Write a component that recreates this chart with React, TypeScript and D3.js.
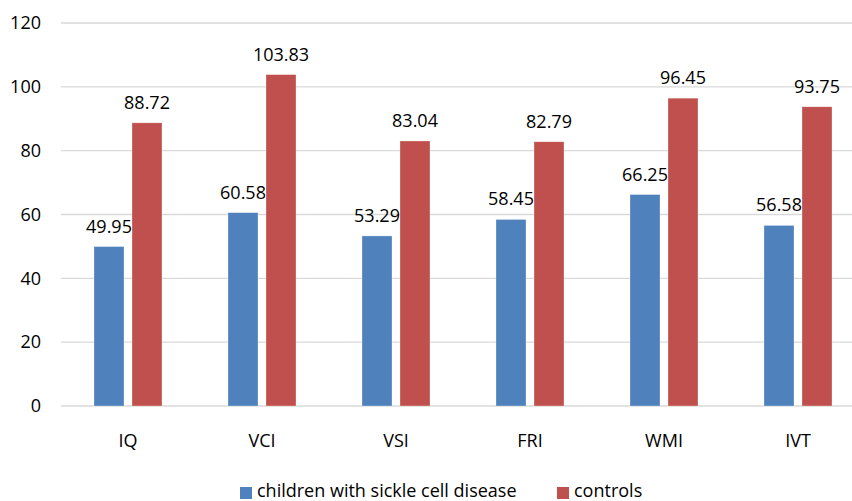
import React from "react";
import * as d3 from "d3";

const categories = ["IQ", "VCI", "VSI", "FRI", "WMI", "IVT"];
const sickleCell = [49.95, 60.58, 53.29, 58.45, 66.25, 56.58];
const controls = [88.72, 103.83, 83.04, 82.79, 96.45, 93.75];
const yTicks = [0, 20, 40, 60, 80, 100, 120];
const seriesNames = ["children with sickle cell disease", "controls"];
const seriesColors = ["#4F81BD", "#C0504D"];

const W = 852;
const H = 501;
const FONT = "'Open Sans', 'Noto Sans', sans-serif";
const FS = 18;

export default function App() {
  const x = d3.scaleBand<string>().domain(categories).range([61, 865]);
  const y = d3.scaleLinear().domain([0, 120]).range([406, 23]);
  const barW = 30;
  const gap = 8;
  const series = [sickleCell, controls];

  return (
    <svg
      width={W}
      height={H}
      style={{ position: "absolute", left: 0, top: 0, background: "#fff" }}
      fontFamily={FONT}
    >
      {yTicks.map((t) => (
        <g key={t}>
          <line x1={61} x2={W} y1={y(t)} y2={y(t)} stroke="#d9d9d9" strokeWidth={1.3} />
          <text x={41} y={y(t)} dy="0.35em" textAnchor="end" fontSize={FS} fill="#000">
            {t}
          </text>
        </g>
      ))}
      {categories.map((c, i) => {
        const cx = (x(c) as number) + x.bandwidth() / 2;
        return (
          <g key={c}>
            {series.map((vals, s) => {
              const bx = s === 0 ? cx - gap / 2 - barW : cx + gap / 2;
              const v = vals[i];
              return (
                <g key={s}>
                  <rect
                    x={bx}
                    y={y(v)}
                    width={barW}
                    height={y(0) - y(v)}
                    fill={seriesColors[s]}
                    stroke="#ffffff"
                    strokeOpacity={0.5}
                    strokeWidth={0.6}
                  />
                  <text
                    x={bx + barW / 2}
                    y={y(v) - 14}
                    textAnchor="middle"
                    fontSize={FS}
                    fill="#000"
                  >
                    {v.toFixed(2)}
                  </text>
                </g>
              );
            })}
            <text x={cx} y={447} textAnchor="middle" fontSize={FS} fill="#000">
              {c}
            </text>
          </g>
        );
      })}
      <g>
        <rect x={240} y={487} width={12} height={12} fill={seriesColors[0]} />
        <text x={257} y={497} fontSize={FS} fill="#000">
          {seriesNames[0]}
        </text>
        <rect x={557} y={487} width={12} height={12} fill={seriesColors[1]} />
        <text x={574} y={497} fontSize={FS} fill="#000">
          {seriesNames[1]}
        </text>
      </g>
    </svg>
  );
}
